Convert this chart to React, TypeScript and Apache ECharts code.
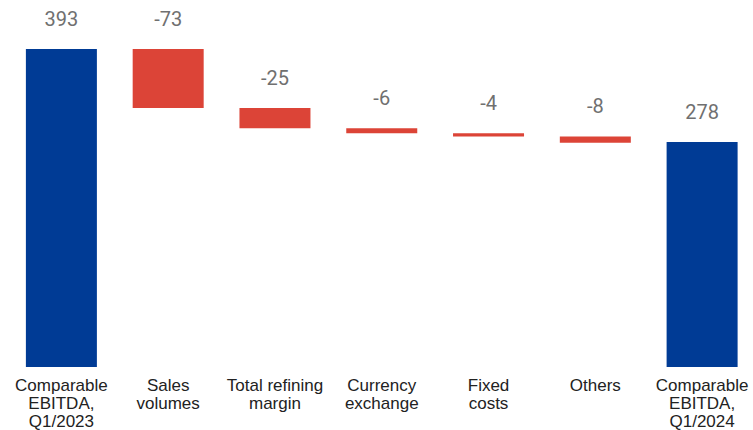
import React, { useEffect, useRef } from "react";
import * as echarts from "echarts";

const categories = [
  "Comparable\nEBITDA,\nQ1/2023",
  "Sales\nvolumes",
  "Total refining\nmargin",
  "Currency\nexchange",
  "Fixed\ncosts",
  "Others",
  "Comparable\nEBITDA,\nQ1/2024",
];
const changes = [393, -73, -25, -6, -4, -8, 278];
const labels = ["393", "-73", "-25", "-6", "-4", "-8", "278"];
const isTotal = [true, false, false, false, false, false, true];

export default function App() {
  const ref = useRef<HTMLDivElement>(null);
  useEffect(() => {
    if (!ref.current) return;
    const chart = echarts.init(ref.current, null, { renderer: "svg" });
    const base: number[] = [];
    const visible: number[] = [];
    let running = 0;
    changes.forEach((v, i) => {
      if (isTotal[i]) {
        base.push(0);
        visible.push(v);
        running = v;
      } else {
        running += v;
        base.push(running);
        visible.push(-v);
      }
    });
    chart.setOption({
      animation: false,
      grid: { left: 8, width: 747.5, top: 49, bottom: 62, containLabel: false },
      xAxis: {
        type: "category",
        data: categories,
        axisLine: { show: false },
        axisTick: { show: false },
        axisLabel: {
          interval: 0,
          margin: 9,
          fontSize: 17,
          lineHeight: 18,
          color: "#222222",
          fontFamily: "Liberation Sans, Arial, sans-serif",
        },
      },
      yAxis: {
        type: "value",
        min: 0,
        max: 393,
        show: false,
        splitLine: { show: false },
      },
      series: [
        {
          type: "bar",
          stack: "w",
          data: base,
          barWidth: 71,
          itemStyle: { color: "transparent" },
          silent: true,
        },
        {
          type: "bar",
          stack: "w",
          barWidth: 71,
          data: visible.map((v, i) => ({
            value: v,
            itemStyle: { color: isTotal[i] ? "#003b95" : "#dc4437" },
          })),
          label: {
            show: true,
            position: "top",
            distance: 20,
            fontSize: 20,
            color: "#707070",
            fontFamily: "Roboto, sans-serif",
            formatter: (p: any) => labels[p.dataIndex],
          },
        },
      ],
    });
    return () => chart.dispose();
  }, []);
  return (
    <div
      style={{
        position: "absolute",
        left: 0,
        top: 0,
        width: 753,
        height: 430,
        overflow: "hidden",
        background: "#ffffff",
      }}
    >
      <div ref={ref} style={{ width: 770, height: 430 }} />
    </div>
  );
}
